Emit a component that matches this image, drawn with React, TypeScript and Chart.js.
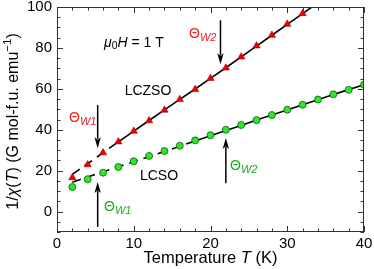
import React, { useEffect, useRef } from "react";
import { Chart, registerables } from "chart.js";
Chart.register(...registerables);

// ---- data ----
const lczsoT = [2, 4, 6, 8, 10, 12, 14, 16, 18, 20, 22, 24, 26, 28, 30, 32];
const lczsoVals = [16.6, 22.9, 28.8, 34.1, 39.3, 44.4, 49.6, 54.8, 59.7, 65.1, 70.2, 75.6, 81.0, 86.2, 91.6, 96.8];
const lcsoT = [2, 4, 6, 8, 10, 12, 14, 16, 18, 20, 22, 24, 26, 28, 30, 32, 34, 36, 38, 40];
const lcsoVals = [12.0, 15.8, 19.0, 21.8, 24.6, 27.2, 29.6, 32.2, 34.8, 37.3, 40.0, 42.3, 44.7, 47.2, 49.8, 52.2, 54.8, 57.3, 59.5, 62.0];
const lczsoFitT = [2, 4, 6, 8, 10, 12, 14, 16, 18, 20, 22, 24, 26, 28, 30, 32, 34];
const lczsoFit = [18.2, 23.4, 28.8, 34.1, 39.3, 44.5, 49.7, 54.8, 59.9, 65.1, 70.3, 75.6, 80.9, 86.2, 91.5, 96.8, 102.1];
const lcsoFitT = [2, 4, 6, 8, 10, 12, 14, 16, 18, 20, 22, 24, 26, 28, 30, 32, 34, 36, 38, 40];
const lcsoFit = [14.3, 16.9, 19.4, 21.9, 24.4, 26.9, 29.4, 31.9, 34.5, 37.0, 39.6, 42.1, 44.7, 47.2, 49.7, 52.2, 54.7, 57.2, 59.6, 62.0];
const lczsoDashEnd = 8;
const lcsoDashEnd = 18;
const xTickLabels = [0, 10, 20, 30, 40];
const yTickLabels = [0, 20, 40, 60, 80, 100];

const FONT = '"Liberation Sans", Arial, Helvetica, sans-serif';
const RED = "#f02020";
const GREEN = "#1faa1f";

type Run = { t: string; size: number; italic?: boolean; dy?: number };

function drawRuns(ctx: CanvasRenderingContext2D, runs: Run[], x: number, y: number, align: "left" | "center", color: string) {
  ctx.save();
  ctx.fillStyle = color;
  ctx.textBaseline = "middle";
  ctx.textAlign = "left";
  const widths = runs.map((r) => {
    ctx.font = `${r.italic ? "italic " : ""}${r.size}px ${FONT}`;
    return ctx.measureText(r.t).width;
  });
  const total = widths.reduce((a, b) => a + b, 0);
  let cx = align === "center" ? x - total / 2 : x;
  runs.forEach((r, i) => {
    ctx.font = `${r.italic ? "italic " : ""}${r.size}px ${FONT}`;
    ctx.fillText(r.t, cx, y + (r.dy || 0));
    cx += widths[i];
  });
  ctx.restore();
}

function arrow(ctx: CanvasRenderingContext2D, x: number, y0: number, y1: number) {
  const dir = y1 > y0 ? 1 : -1;
  const headLen = 11;
  const headW = 3.2;
  ctx.save();
  ctx.strokeStyle = "#000";
  ctx.fillStyle = "#000";
  ctx.lineWidth = 1.5;
  ctx.beginPath();
  ctx.moveTo(x, y0);
  ctx.lineTo(x, y1 - dir * headLen * 0.8);
  ctx.stroke();
  ctx.beginPath();
  ctx.moveTo(x, y1);
  ctx.lineTo(x - headW, y1 - dir * headLen);
  ctx.lineTo(x, y1 - dir * headLen * 0.75);
  ctx.lineTo(x + headW, y1 - dir * headLen);
  ctx.closePath();
  ctx.fill();
  ctx.restore();
}

const decorPlugin = {
  id: "decor",
  afterDatasetsDraw(chart: any) {
    const ctx: CanvasRenderingContext2D = chart.ctx;
    const xs = chart.scales.x;
    const ys = chart.scales.y;
    const { left, right, top, bottom } = chart.chartArea;

    ctx.save();
    ctx.strokeStyle = "#333";
    ctx.lineWidth = 1;
    ctx.strokeRect(left + 0.5, top + 0.5, right - left - 1, bottom - top - 1);
    ctx.beginPath();
    for (let v = 0; v <= 40; v += 2) {
      const px = Math.round(xs.getPixelForValue(v)) + 0.5;
      const len = v % 10 === 0 ? 6 : 3.5;
      ctx.moveTo(px, bottom);
      ctx.lineTo(px, bottom - len);
      ctx.moveTo(px, top);
      ctx.lineTo(px, top + len);
    }
    for (let v = -10; v <= 100; v += 5) {
      const py = Math.round(ys.getPixelForValue(v)) + 0.5;
      const len = v % 20 === 0 ? 6 : 3.5;
      ctx.moveTo(left, py);
      ctx.lineTo(left + len, py);
      ctx.moveTo(right, py);
      ctx.lineTo(right - len, py);
    }
    ctx.stroke();
    ctx.restore();

    arrow(ctx, xs.getPixelForValue(5.3), ys.getPixelForValue(52), ys.getPixelForValue(31));
    arrow(ctx, xs.getPixelForValue(21.3), ys.getPixelForValue(93.5), ys.getPixelForValue(72));
    arrow(ctx, xs.getPixelForValue(5.3), ys.getPixelForValue(-7.5), ys.getPixelForValue(14.5));
    arrow(ctx, xs.getPixelForValue(22.0), ys.getPixelForValue(13.8), ys.getPixelForValue(36));

    const theta = (x: number, y: number, sub: string, color: string) =>
      drawRuns(ctx, [
        { t: "Θ", size: 14 },
        { t: sub, size: 11, italic: true, dy: 4 },
      ], x, y, "left", color);
    theta(69, 118, "W1", RED);
    theta(189, 34, "W2", RED);
    theta(104, 207, "W1", GREEN);
    theta(230, 166, "W2", GREEN);

    drawRuns(ctx, [{ t: "LCZSO", size: 14 }], 148, 91, "center", "#000");
    drawRuns(ctx, [{ t: "LCSO", size: 14 }], 159, 176, "center", "#000");
    drawRuns(ctx, [
      { t: "μ", size: 14, italic: true },
      { t: "0", size: 10.5, dy: 3 },
      { t: "H", size: 14, italic: true },
      { t: " = 1 T", size: 14 },
    ], 104, 43, "left", "#000");
  },
  afterDraw(chart: any) {
    const ctx: CanvasRenderingContext2D = chart.ctx;
    const { left, right, top, bottom } = chart.chartArea;
    drawRuns(ctx, [
      { t: "Temperature ", size: 16.5 },
      { t: "T", size: 16.5, italic: true },
      { t: " (K)", size: 16.5 },
    ], (left + right) / 2, 258, "center", "#000");
    ctx.save();
    ctx.translate(14, (top + bottom) / 2 + 2);
    ctx.rotate(-Math.PI / 2);
    drawRuns(ctx, [
      { t: "1/", size: 16 },
      { t: "χ", size: 16, italic: true },
      { t: "(", size: 16 },
      { t: "T", size: 16, italic: true },
      { t: ") (G mol-f.u. emu", size: 16 },
      { t: "−1", size: 11.5, dy: -6 },
      { t: ")", size: 16 },
    ], 0, 0, "center", "#000");
    ctx.restore();
  },
};

export default function App() {
  const ref = useRef<HTMLCanvasElement>(null);
  useEffect(() => {
    document.body.style.margin = "0";
    const canvas = ref.current!;
    const dashSeg = (end: number) => ({
      borderDash: (c: any) => (c.p0.parsed.x < end ? [9, 6] : undefined),
    });
    const chart = new Chart(canvas, {
      type: "scatter",
      data: {
        datasets: [
          {
            label: "LCZSO fit",
            data: lczsoFitT.map((t, i) => ({ x: t, y: lczsoFit[i] })),
            showLine: true,
            borderColor: "#000",
            borderWidth: 1.6,
            pointRadius: 0,
            segment: dashSeg(lczsoDashEnd),
            order: 2,
          } as any,
          {
            label: "LCSO fit",
            data: lcsoFitT.map((t, i) => ({ x: t, y: lcsoFit[i] })),
            showLine: true,
            borderColor: "#000",
            borderWidth: 1.6,
            pointRadius: 0,
            segment: dashSeg(lcsoDashEnd),
            order: 2,
          } as any,
          {
            label: "LCZSO",
            data: lczsoT.map((t, i) => ({ x: t, y: lczsoVals[i] })),
            pointStyle: "triangle",
            pointRadius: 4.2,
            backgroundColor: "#ee0000",
            borderColor: "#990000",
            borderWidth: 0.6,
            order: 1,
          },
          {
            label: "LCSO",
            data: lcsoT.map((t, i) => ({ x: t, y: lcsoVals[i] })),
            pointStyle: "circle",
            pointRadius: 3.5,
            backgroundColor: "#2ee62e",
            borderColor: "#0a600a",
            borderWidth: 0.8,
            order: 1,
          },
        ],
      },
      options: {
        responsive: false,
        animation: false,
        layout: { padding: { top: 7, right: 10, left: 0, bottom: 0 } },
        plugins: { legend: { display: false }, tooltip: { enabled: false } },
        scales: {
          x: {
            type: "linear",
            min: 0,
            max: 40,
            grid: { display: false, drawTicks: false },
            border: { display: false },
            ticks: { font: { size: 15, family: FONT }, color: "#000", padding: 3, maxRotation: 0 },
            afterBuildTicks: (s: any) => {
              s.ticks = xTickLabels.map((v) => ({ value: v }));
            },
            afterFit: (s: any) => {
              s.height = 37;
              s.paddingLeft = 0;
              s.paddingRight = 0;
            },
          },
          y: {
            type: "linear",
            min: -10,
            max: 100,
            grid: { display: false, drawTicks: false },
            border: { display: false },
            ticks: { font: { size: 15, family: FONT }, color: "#000", padding: 5 },
            afterBuildTicks: (s: any) => {
              s.ticks = yTickLabels.map((v) => ({ value: v }));
            },
            afterFit: (s: any) => {
              s.width = 57;
              s.paddingTop = 0;
              s.paddingBottom = 0;
            },
          },
        },
      },
      plugins: [decorPlugin],
    });
    return () => chart.destroy();
  }, []);
  return (
    <div style={{ width: 374, height: 269 }}>
      <canvas ref={ref} width={374} height={269} style={{ display: "block" }} />
    </div>
  );
}
